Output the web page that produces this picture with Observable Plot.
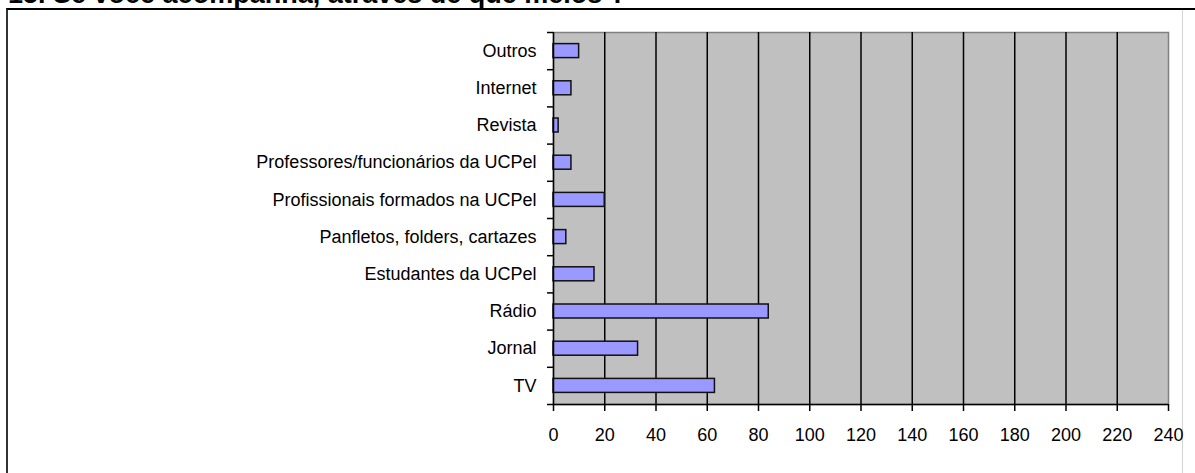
<!DOCTYPE html>
<html>
<head>
<meta charset="utf-8">
<script src="https://cdn.jsdelivr.net/npm/d3@7"></script>
<script src="https://cdn.jsdelivr.net/npm/@observablehq/plot@0.6"></script>
<style>
  html, body { margin: 0; padding: 0; background: #fff; overflow: hidden; }
  #wrap { position: relative; width: 1195px; height: 473px; overflow: hidden; font-family: "Liberation Sans", Arial, sans-serif; }
  #title { position: absolute; left: 8px; top: -19px; font-size: 27px; line-height: 27px; font-weight: bold; color: #000; white-space: nowrap; }
  #box { position: absolute; left: 6px; top: 8px; width: 1200px; height: 480px; border-top: 2px solid #000; border-left: 2px solid #333; }
  #rline { position: absolute; left: 1182px; top: 10px; width: 1px; height: 470px; background: #d4d4d4; }
  #chart { position: absolute; left: 0; top: 0; }
</style>
</head>
<body>
<div id="wrap">
  <div id="title">15. Se você acompanha, através de que meios ?</div>
  <div id="box"></div>
  <div id="rline"></div>
  <div id="chart"></div>
</div>
<script>
const categories = [
  "Outros",
  "Internet",
  "Revista",
  "Professores/funcionários da UCPel",
  "Profissionais formados na UCPel",
  "Panfletos, folders, cartazes",
  "Estudantes da UCPel",
  "Rádio",
  "Jornal",
  "TV"
];
const values = [10, 7, 2, 7, 20, 5, 16, 84, 33, 63];
const xTicks = [0, 20, 40, 60, 80, 100, 120, 140, 160, 180, 200, 220, 240];

const rows = categories.map((c, i) => ({cat: c, i, v: values[i]}));
const boundaries = categories.map((c, i) => i).concat([categories.length]);
const centers = categories.map((c, i) => i + 0.5);

const chart = Plot.plot({
  width: 1195,
  height: 473,
  marginLeft: 553,
  marginRight: 27,
  marginTop: 32,
  marginBottom: 69,
  style: {fontFamily: '"Liberation Sans", Arial, sans-serif', fontSize: "18px", color: "#000", background: "transparent"},
  x: {domain: [0, 240], label: null},
  y: {domain: [0, categories.length], reverse: true, label: null},
  marks: [
    Plot.frame({fill: "#c0c0c0", stroke: "#808080", strokeWidth: 1.5}),
    Plot.ruleX(xTicks.slice(1, -1), {stroke: "#000", strokeWidth: 1.5}),
    Plot.rectX(rows, {
      x: "v",
      y1: "i",
      y2: d => d.i + 1,
      insetTop: 11.6,
      insetBottom: 11.6,
      fill: "#9999ff",
      stroke: "#111",
      strokeWidth: 1.5
    }),
    Plot.ruleX([0], {stroke: "#000", strokeWidth: 1.5}),
    Plot.ruleY([categories.length], {stroke: "#000", strokeWidth: 1.5}),
    Plot.axisX({ticks: xTicks, tickSize: 7, tickPadding: 17, tickFormat: d => String(d), stroke: "#000", strokeWidth: 1.5, fill: "#000", label: null}),
    Plot.axisY({ticks: boundaries, tickSize: 6, tickFormat: () => "", stroke: "#000", strokeWidth: 1.5, label: null}),
    Plot.axisY({ticks: centers, tickSize: 0, tickPadding: 17, tickFormat: v => categories[Math.floor(v)], fill: "#000", label: null})
  ]
});
document.getElementById("chart").appendChild(chart);
</script>
</body>
</html>
